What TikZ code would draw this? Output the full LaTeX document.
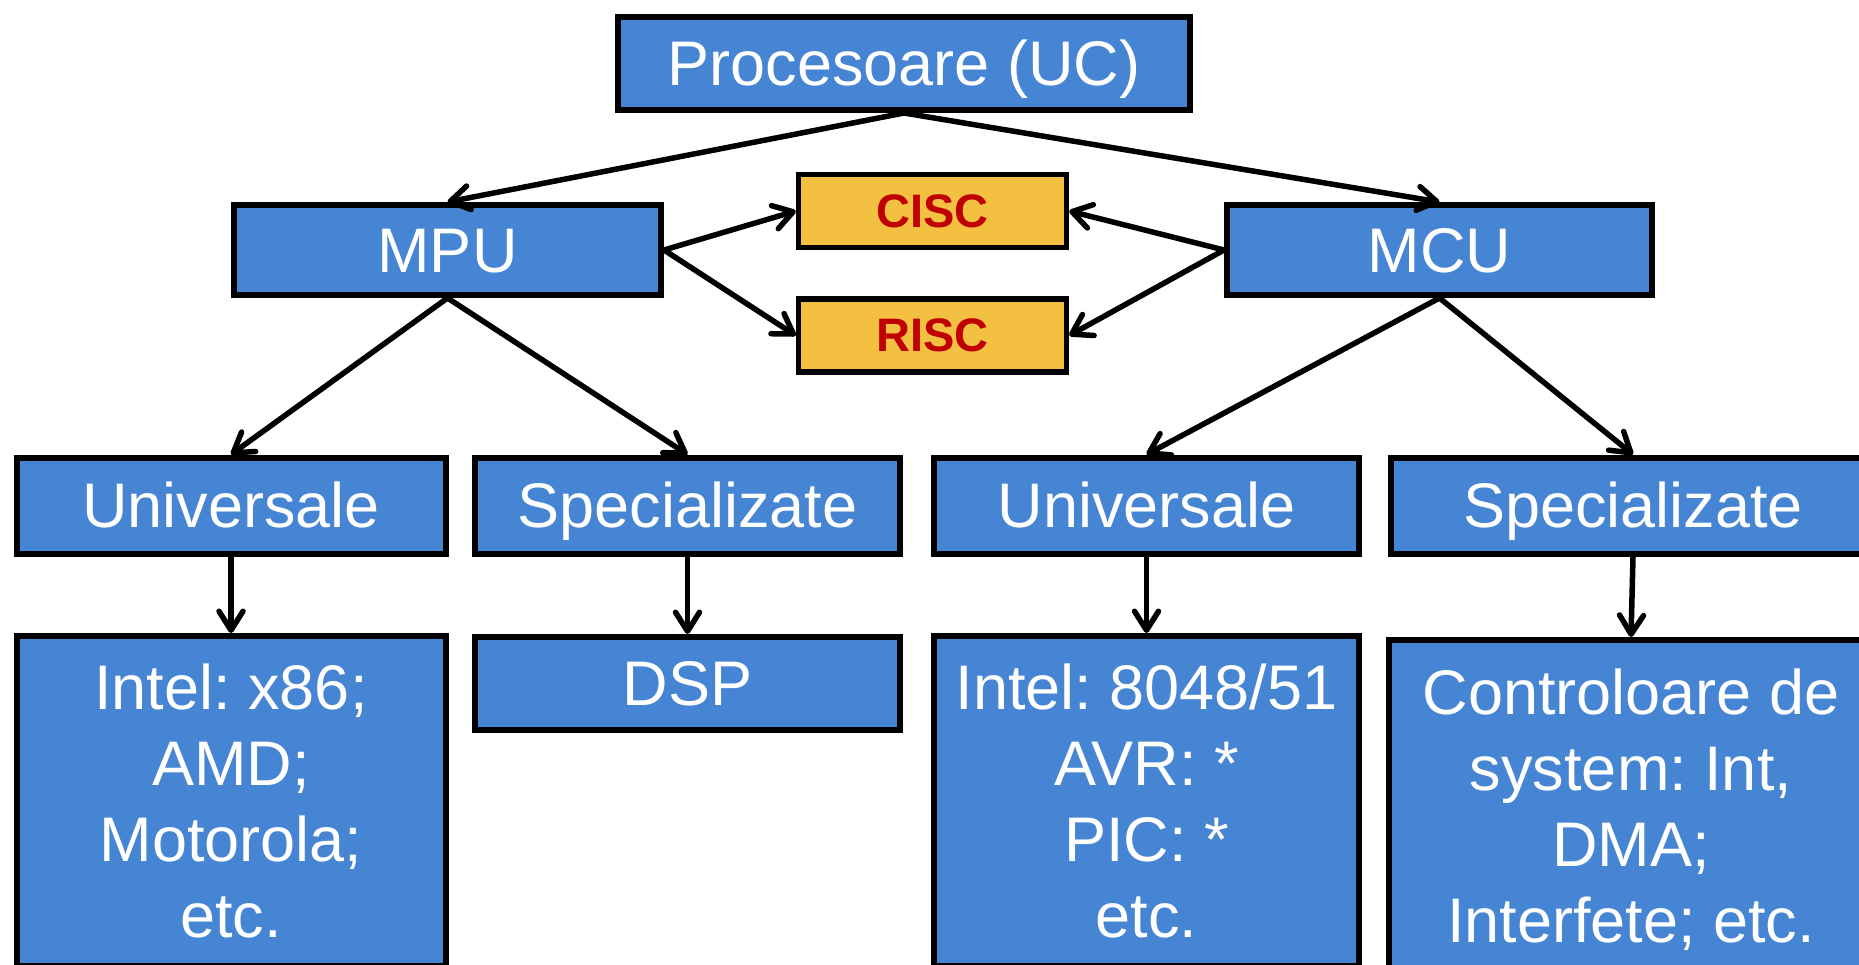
\documentclass[tikz,border=0pt]{standalone}
\usepackage{fontspec}
\setmainfont{Liberation Sans}
\frenchspacing
\usetikzlibrary{arrows.meta}
\definecolor{boxblue}{RGB}{70,132,212}
\definecolor{boxgold}{RGB}{244,192,66}
\definecolor{labelred}{RGB}{192,0,0}

\begin{document}
\begin{tikzpicture}[x=1pt,y=-1pt,
  box/.style={draw=black, line width=6pt, fill=boxblue, text=white,
    inner sep=0pt, align=center, font=\fontsize{63}{76}\selectfont},
  oneline/.style={text height=44pt, text depth=0pt},
  goldbox/.style={draw=black, line width=5.5pt, fill=boxgold, text=labelred,
    inner sep=0pt, font=\bfseries\fontsize{47}{56}\selectfont,
    text height=32pt, text depth=0pt},
  link/.style={line width=5.5pt,
    -{Straight Barb[length=19pt,width=24pt,round]}}
]
\useasboundingbox (0,0) rectangle (1859,964);
\fill[white] (0,0) rectangle (1859,964);
\clip (0,0) rectangle (1859,964);

% top level
\node[box, oneline, minimum width=572pt, minimum height=93pt] (proc) at (904,63.5) {Procesoare (UC)};

% second level
\node[box, oneline, minimum width=427pt, minimum height=90pt] (mpu) at (447.5,250) {MPU};
\node[box, oneline, minimum width=425pt, minimum height=90pt] (mcu) at (1439.5,250) {MCU};

% instruction set architectures
\node[goldbox, minimum width=268pt, minimum height=73pt] (cisc) at (932.5,211) {CISC};
\node[goldbox, minimum width=268pt, minimum height=73pt] (risc) at (932.5,335.5) {RISC};

% third level
\node[box, oneline, minimum width=429pt, minimum height=96pt] (univA) at (231,505.5) {Universale};
\node[box, oneline, minimum width=425pt, minimum height=96pt] (specA) at (687.5,505.5) {Specializate};
\node[box, oneline, minimum width=425pt, minimum height=96pt] (univB) at (1146.5,505.5) {Universale};
\node[box, oneline, minimum width=484pt, minimum height=96pt] (specB) at (1633,505.5) {Specializate};

% examples
\node[box, anchor=north, minimum width=429pt, minimum height=330pt] (exA) at (231,633)
  {Intel: x86;\\AMD;\\Motorola;\\etc.};
\node[box, oneline, minimum width=425pt, minimum height=93pt] (dsp) at (687.5,683.5) {DSP};
\node[box, anchor=north, minimum width=425pt, minimum height=330pt] (exB) at (1146.5,633)
  {Intel: 8048/51\\AVR: *\\PIC: *\\etc.};
\node[box, anchor=north, minimum width=484pt, minimum height=339pt] (exC) at (1631,637)
  {Controloare de\\system: Int,\\DMA;\\Interfete; etc.};

% connectors
\draw[link] (proc.south) -- (mpu.north);
\draw[link] (proc.south) -- (mcu.north);
\draw[link] (mpu.east) -- (cisc.west);
\draw[link] (mpu.east) -- (risc.west);
\draw[link] (mcu.west) -- (cisc.east);
\draw[link] (mcu.west) -- (risc.east);
\draw[link] (mpu.south) -- (univA.north);
\draw[link] (mpu.south) -- (specA.north);
\draw[link] (mcu.south) -- (univB.north);
\draw[link] (mcu.south) -- (specB.north);
\draw[link] (univA.south) -- (exA.north);
\draw[link] (specA.south) -- (dsp.north);
\draw[link] (univB.south) -- (exB.north);
\draw[link] (specB.south) -- (exC.north);
\end{tikzpicture}
\end{document}
